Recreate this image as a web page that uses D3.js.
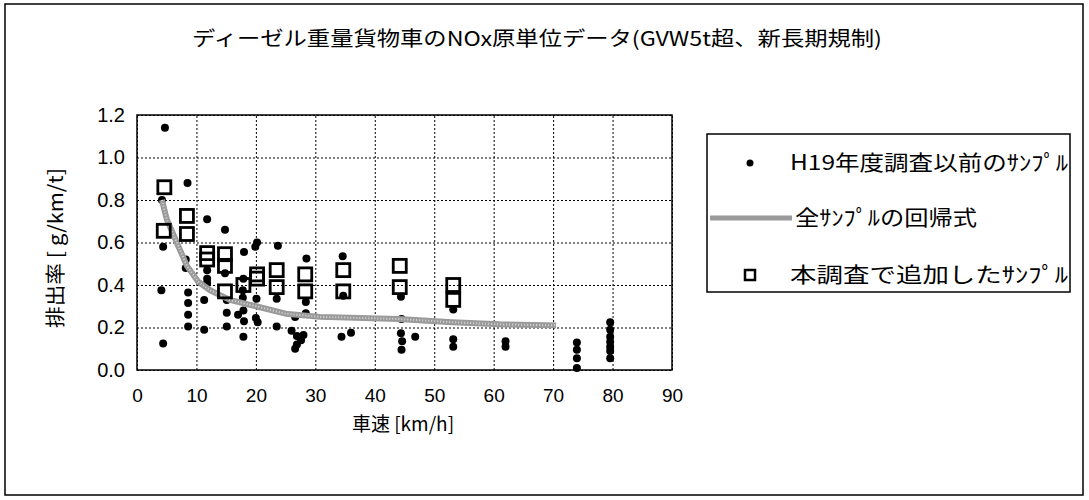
<!DOCTYPE html>
<html>
<head>
<meta charset="utf-8">
<script src="https://cdn.jsdelivr.net/npm/d3@7"></script>
<style>
  body { margin: 0; background: #fff; }
  text { fill: #000; }
</style>
</head>
<body>
<svg id="chart" width="1089" height="500"></svg>
<script>
// H19年度調査以前のサンプル (speed km/h, rate g/km/t)
const oldSpeed = [4.7, 4.2, 4.4, 4.1, 4.4,
  8.5, 8.2, 8.2, 8.6, 8.6, 8.6, 8.6,
  11.8, 11.8, 11.8, 11.8, 11.3, 11.3,
  14.8, 14.8, 15.1, 15.1, 15.1,
  18.0, 17.9, 17.8, 17.8, 17.9, 17.0, 18.0, 17.9,
  20.2, 19.9, 20.1, 20.0, 20.3,
  23.7, 23.5, 23.5,
  26.6, 26.0, 26.9, 27.6, 26.9, 26.6,
  28.5, 28.4, 28.4, 28.0,
  34.6, 34.7, 34.4, 36.0,
  44.4, 44.5, 44.4, 44.6, 44.5, 46.8,
  53.2, 53.2, 53.2,
  62.0, 62.0,
  74.0, 74.0, 74.0, 74.0,
  79.6, 79.6, 79.6, 79.6, 79.6, 79.6, 79.6]
const oldRate = [1.14, 0.80, 0.58, 0.375, 0.125,
  0.88, 0.52, 0.48, 0.365, 0.315, 0.26, 0.205,
  0.71, 0.47, 0.43, 0.41, 0.33, 0.19,
  0.66, 0.455, 0.33, 0.27, 0.205,
  0.555, 0.43, 0.375, 0.34, 0.28, 0.26, 0.23, 0.157,
  0.60, 0.58, 0.335, 0.245, 0.225,
  0.585, 0.335, 0.205,
  0.25, 0.185, 0.16, 0.14, 0.12, 0.10,
  0.525, 0.32, 0.267, 0.165,
  0.535, 0.35, 0.157, 0.175,
  0.345, 0.24, 0.173, 0.135, 0.095, 0.157,
  0.285, 0.145, 0.11,
  0.135, 0.11,
  0.13, 0.095, 0.055, 0.01,
  0.225, 0.19, 0.157, 0.133, 0.11, 0.09, 0.055]

// 本調査で追加したサンプル
const newSpeed = [4.6, 4.5, 8.4, 8.4, 11.8, 11.8, 14.8, 14.8, 14.8, 17.9,
  20.2, 20.2, 23.5, 23.5, 28.3, 28.3, 34.7, 34.7, 44.2, 44.2, 53.2, 53.2]
const newRate = [0.86, 0.655, 0.725, 0.64, 0.55, 0.52, 0.545, 0.49, 0.37, 0.40,
  0.45, 0.43, 0.47, 0.39, 0.45, 0.37, 0.47, 0.37, 0.49, 0.39, 0.40, 0.33]

// 全サンプルの回帰式
const fitSpeed = [4.2, 5, 7, 8.4, 10.3, 12.3, 15.6, 20, 25, 30.8, 44, 53, 61, 70.5]
const fitRate = [0.80, 0.71, 0.58, 0.49, 0.415, 0.375, 0.33, 0.30, 0.265, 0.25, 0.24, 0.225, 0.215, 0.21]

const xTicks = [0, 10, 20, 30, 40, 50, 60, 70, 80, 90]
const yTicks = [0, 0.2, 0.4, 0.6, 0.8, 1.0, 1.2]

const titleText = 'ディーゼル重量貨物車のNOx原単位データ(GVW5t超、新長期規制)'
const legendLabels = ['H19年度調査以前のｻﾝﾌﾟﾙ', '全ｻﾝﾌﾟﾙの回帰式', '本調査で追加したｻﾝﾌﾟﾙ']

const svg = d3.select('#chart')
const jp = '"Noto Sans CJK JP", "Noto Sans", sans-serif'
const num = '"Liberation Sans", Arial, sans-serif'

const plotL = 137, plotR = 672, plotT = 115, plotB = 370
const x = d3.scaleLinear().domain([0, 90]).range([plotL, plotR])
const y = d3.scaleLinear().domain([0, 1.2]).range([plotB, plotT])

// outer frame
svg.append('rect')
  .attr('x', 5).attr('y', 4).attr('width', 1078).attr('height', 491)
  .attr('fill', '#fff').attr('stroke', '#000').attr('stroke-width', 1.5)

svg.append('text')
  .attr('x', 537).attr('y', 46)
  .attr('text-anchor', 'middle')
  .attr('font-family', jp).attr('font-size', 20)
  .attr('textLength', 690).attr('lengthAdjust', 'spacingAndGlyphs')
  .text(titleText)

// grid
svg.append('g')
  .attr('transform', `translate(0,${plotB})`)
  .call(d3.axisBottom(x).tickValues(xTicks).tickSize(-(plotB - plotT)).tickFormat(''))
  .call(g => g.select('.domain').remove())
  .call(g => g.selectAll('line').attr('stroke', '#000').attr('stroke-dasharray', '2,2'))

svg.append('g')
  .attr('transform', `translate(${plotL},0)`)
  .call(d3.axisLeft(y).tickValues(yTicks).tickSize(-(plotR - plotL)).tickFormat(''))
  .call(g => g.select('.domain').remove())
  .call(g => g.selectAll('line').attr('stroke', '#000').attr('stroke-dasharray', '2,2'))

svg.append('rect')
  .attr('x', plotL).attr('y', plotT).attr('width', plotR - plotL).attr('height', plotB - plotT)
  .attr('fill', 'none').attr('stroke', '#000').attr('stroke-width', 1.5)

// tick labels
svg.append('g')
  .attr('transform', `translate(0,${plotB + 15})`)
  .call(d3.axisBottom(x).tickValues(xTicks).tickSize(0).tickFormat(d3.format('d')))
  .call(g => g.select('.domain').remove())
  .call(g => g.selectAll('text').attr('font-family', num).attr('font-size', 19).attr('fill', '#000'))

svg.append('g')
  .attr('transform', `translate(${plotL - 9},0)`)
  .call(d3.axisLeft(y).tickValues(yTicks).tickSize(0).tickFormat(d3.format('.1f')))
  .call(g => g.select('.domain').remove())
  .call(g => g.selectAll('text').attr('font-family', num).attr('font-size', 20).attr('fill', '#000'))

svg.append('text')
  .attr('x', 403).attr('y', 431)
  .attr('text-anchor', 'middle')
  .attr('font-family', jp).attr('font-size', 19)
  .text('車速 [km/h]')

svg.append('text')
  .attr('transform', 'translate(63,248) rotate(-90)')
  .attr('text-anchor', 'middle')
  .attr('font-family', jp).attr('font-size', 20)
  .attr('textLength', 160).attr('lengthAdjust', 'spacingAndGlyphs')
  .text('排出率 [ g/km/t]')

// marks
const oldPts = oldSpeed.map((s, i) => [s, oldRate[i]])
const newPts = newSpeed.map((s, i) => [s, newRate[i]])
const fitPts = fitSpeed.map((s, i) => [s, fitRate[i]])

svg.append('g').selectAll('circle')
  .data(oldPts).enter().append('circle')
  .attr('cx', d => x(d[0])).attr('cy', d => y(d[1]))
  .attr('r', 4).attr('fill', '#000')

const line = d3.line().x(d => x(d[0])).y(d => y(d[1]))
svg.append('path')
  .attr('d', line(fitPts))
  .attr('fill', 'none').attr('stroke', '#9a9a9a').attr('stroke-width', 6)
  .attr('stroke-linejoin', 'round')
svg.append('path')
  .attr('d', line(fitPts))
  .attr('fill', 'none').attr('stroke', '#d8d8d8').attr('stroke-width', 2)
  .attr('stroke-dasharray', '1,2')

const sq = 13
svg.append('g').selectAll('rect')
  .data(newPts).enter().append('rect')
  .attr('x', d => x(d[0]) - sq / 2).attr('y', d => y(d[1]) - sq / 2)
  .attr('width', sq).attr('height', sq)
  .attr('fill', 'none').attr('stroke', '#000').attr('stroke-width', 2.8)

// legend
const lg = svg.append('g')
lg.append('rect')
  .attr('x', 707).attr('y', 134).attr('width', 363).attr('height', 158)
  .attr('fill', '#fff').attr('stroke', '#000').attr('stroke-width', 1.5)

lg.append('circle').attr('cx', 750).attr('cy', 163).attr('r', 3.5).attr('fill', '#000')
lg.append('path').attr('d', 'M710,218H792')
  .attr('stroke', '#9a9a9a').attr('stroke-width', 5)
lg.append('rect').attr('x', 745).attr('y', 270).attr('width', 10).attr('height', 10)
  .attr('fill', 'none').attr('stroke', '#000').attr('stroke-width', 2.5)

const legendX = [790, 795, 790]
const legendY = [163, 218, 275]
const legendW = [278, 182, 278]
legendLabels.forEach((t, i) => {
  lg.append('text')
    .attr('x', legendX[i]).attr('y', legendY[i])
    .attr('dy', '0.35em')
    .attr('font-family', jp).attr('font-size', 21)
    .attr('textLength', legendW[i]).attr('lengthAdjust', 'spacingAndGlyphs')
    .text(t)
})
</script>
</body>
</html>
